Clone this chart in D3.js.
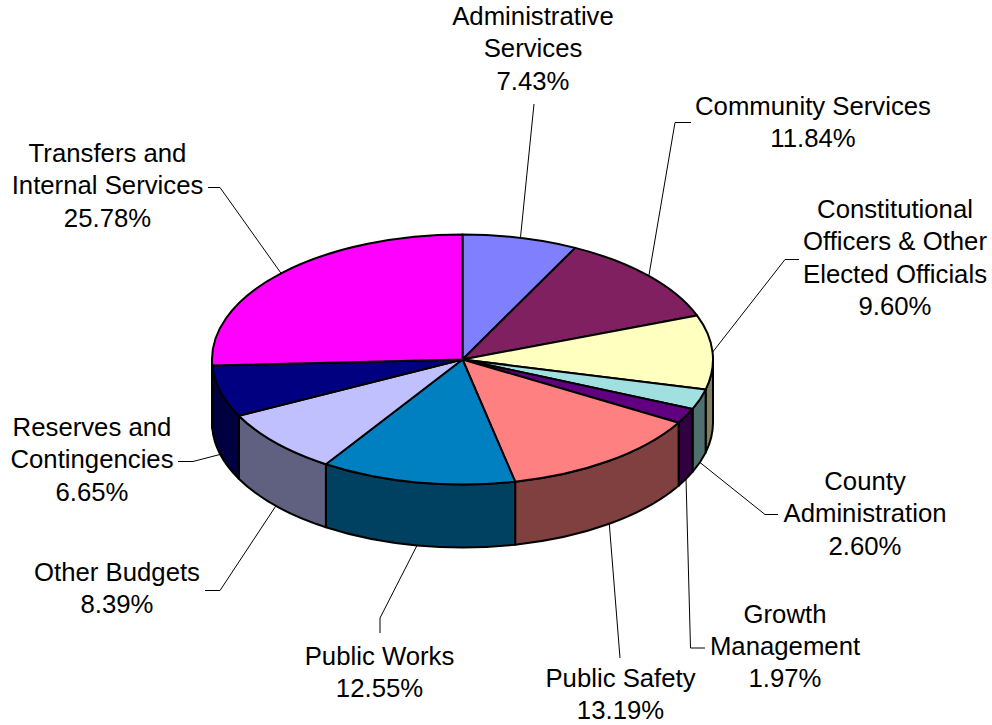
<!DOCTYPE html>
<html>
<head>
<meta charset="utf-8">
<script src="https://cdn.jsdelivr.net/npm/d3@7"></script>
<style>
  html, body { margin: 0; padding: 0; background: #fff; }
  svg { display: block; }
</style>
</head>
<body>
<svg id="chart" width="992" height="725"></svg>
<script>
// Budget shares by department (percent of total)
const categories = [
  "Administrative Services",
  "Community Services",
  "Constitutional Officers & Other Elected Officials",
  "County Administration",
  "Growth Management",
  "Public Safety",
  "Public Works",
  "Other Budgets",
  "Reserves and Contingencies",
  "Transfers and Internal Services"
];
const shares = [7.43, 11.84, 9.60, 2.60, 1.97, 13.19, 12.55, 8.39, 6.65, 25.78];
const labelLines = [
  ["Administrative", "Services"],
  ["Community Services"],
  ["Constitutional", "Officers & Other", "Elected Officials"],
  ["County", "Administration"],
  ["Growth", "Management"],
  ["Public Safety"],
  ["Public Works"],
  ["Other Budgets"],
  ["Reserves and", "Contingencies"],
  ["Transfers and", "Internal Services"]
];

// Styling
const sliceColors = ["#8080FF", "#802060", "#FFFFC0", "#A0E0E0", "#600080",
                     "#FF8080", "#0080C0", "#C0C0FF", "#000080", "#FF00FF"];

// Label placement: centre x, first baseline y, leader points running from the label toward the slice
const labelLayout = [
  { x: 533,   y: 25,    lead: [[534, 104]] },
  { x: 813,   y: 115,   lead: [[691, 122.5], [675, 122.5]] },
  { x: 895,   y: 218,   lead: [[799, 259.5], [785, 259.5]] },
  { x: 865,   y: 490,   lead: [[778, 514.5], [765, 514.5]] },
  { x: 785,   y: 622.5, lead: [[705, 648], [690.5, 648]] },
  { x: 620.5, y: 686.5, lead: [[620, 658]] },
  { x: 379.5, y: 665,   lead: [[380, 633], [380, 618]] },
  { x: 117,   y: 581,   lead: [[205, 590.5], [220, 590.5]] },
  { x: 92,    y: 436,   lead: [[178, 461.5], [193, 461.5]] },
  { x: 107.5, y: 162,   lead: [[208, 187.5], [220, 187.5]] }
];

const geom = { cx: 462.5, cy: 359.5, rx: 250.5, ry: 125, depth: 63 };
const fontSize = 25, lineGap = 32.5, stretch = 1.03;

const svg = d3.select("#chart");
const fmt = v => d3.format(".2f")(v) + "%";

const pie = d3.pie().sort(null).value(d => d).startAngle(0).endAngle(2 * Math.PI);
const arcs = pie(shares);

// point on the pie rim at angle a (clockwise from 12 o'clock), dropped by dy
function pt(a, dy = 0) {
  return [geom.cx + geom.rx * Math.sin(a), geom.cy - geom.ry * Math.cos(a) + dy];
}
const P = p => p[0].toFixed(2) + "," + p[1].toFixed(2);

function shade(c) {
  const r = d3.rgb(c);
  return d3.rgb(Math.round(r.r * 0.5), Math.round(r.g * 0.5), Math.round(r.b * 0.5)).toString();
}

// Outer walls (front half only)
const walls = svg.append("g");
arcs.forEach((d, i) => {
  const s = Math.max(d.startAngle, Math.PI / 2);
  const e = Math.min(d.endAngle, 3 * Math.PI / 2);
  if (e <= s) return;
  const path = `M${P(pt(s))} A${geom.rx},${geom.ry} 0 0 1 ${P(pt(e))}` +
               ` L${P(pt(e, geom.depth))} A${geom.rx},${geom.ry} 0 0 0 ${P(pt(s, geom.depth))} Z`;
  walls.append("path")
    .attr("d", path)
    .attr("fill", shade(sliceColors[i]))
    .attr("stroke", "#000")
    .attr("stroke-width", 2)
    .attr("stroke-linejoin", "round");
});

// Top faces
const tops = svg.append("g");
arcs.forEach((d, i) => {
  const large = (d.endAngle - d.startAngle) > Math.PI ? 1 : 0;
  const path = `M${geom.cx},${geom.cy} L${P(pt(d.startAngle))}` +
               ` A${geom.rx},${geom.ry} 0 ${large} 1 ${P(pt(d.endAngle))} Z`;
  tops.append("path")
    .attr("d", path)
    .attr("fill", sliceColors[i])
    .attr("stroke", "#000")
    .attr("stroke-width", 2)
    .attr("stroke-linejoin", "round");
});

// Leader lines: from label to the slice's mid-angle on the rim
const line = d3.line();
const leaders = svg.append("g");
arcs.forEach((d, i) => {
  const mid = (d.startAngle + d.endAngle) / 2;
  const anchor = Math.cos(mid) < 0 ? pt(mid, geom.depth) : pt(mid, 0);
  const pts = labelLayout[i].lead.concat([anchor]);
  leaders.append("path")
    .attr("d", line(pts))
    .attr("fill", "none")
    .attr("stroke", "#000")
    .attr("stroke-width", 1);
});

// Labels
const labels = svg.append("g")
  .attr("font-family", "'Liberation Sans', Arial, sans-serif")
  .attr("font-size", fontSize)
  .attr("fill", "#000")
  .attr("text-anchor", "middle");
arcs.forEach((d, i) => {
  const L = labelLayout[i];
  const t = labels.append("text")
    .attr("transform", `translate(${L.x},${L.y}) scale(${stretch},1)`);
  labelLines[i].concat([fmt(shares[i])]).forEach((s, k) => {
    t.append("tspan").attr("x", 0).attr("y", k * lineGap).text(s);
  });
});
</script>
</body>
</html>
